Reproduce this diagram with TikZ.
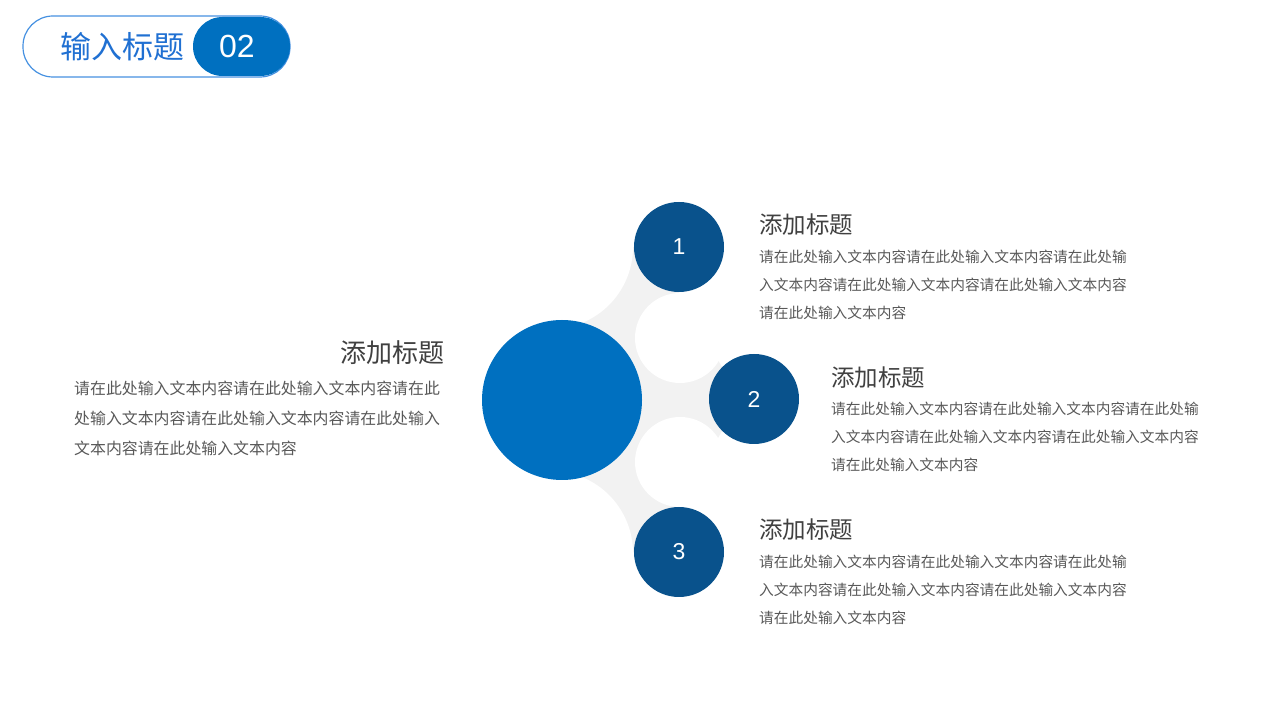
\documentclass[tikz,border=0pt]{standalone}
\usepackage{fontspec}
\setmainfont{Liberation Sans}
\newfontfamily\cjk{Noto Sans CJK SC}
\usetikzlibrary{backgrounds}

\definecolor{hubblue}{RGB}{0,112,192}
\definecolor{dotblue}{RGB}{9,82,140}
\definecolor{neckgray}{RGB}{242,242,242}
\definecolor{headblue}{RGB}{32,112,210}
\definecolor{rimblue}{RGB}{70,145,225}
\definecolor{titlegray}{RGB}{64,64,64}
\definecolor{bodygray}{RGB}{89,89,89}

\begin{document}
\begin{tikzpicture}[x = 1pt, y = 1pt,
            hub/.style = {circle, fill = hubblue, minimum size = 160pt, inner sep = 0pt},
            dot/.style = {circle, fill = dotblue, minimum size = 90pt, inner sep = 0pt, text = white, font = \fontsize{23}{23}\selectfont},
            headline/.style = {inner sep = 0pt, text = titlegray, font = \cjk\fontsize{23.5}{23.5}\selectfont},
            bodyline/.style = {inner sep = 0pt, anchor = west, text = bodygray, font = \cjk\fontsize{14.7}{14.7}\selectfont},
            bigheadline/.style = {headline, font = \cjk\fontsize{26}{26}\selectfont},
            bigbodyline/.style = {bodyline, font = \cjk\fontsize{15.9}{15.9}\selectfont}]
            \useasboundingbox (0,0) rectangle (1280,720);

            \draw [rimblue, line width = 1.2pt, rounded corners = 30pt]
            (23,643) rectangle (290,704);
            \fill [hubblue, rounded corners = 29.5pt]
            (193,644) rectangle (290,703);
            \node [inner sep = 0pt, anchor = west, text = headblue, font = \cjk\fontsize{31}{31}\selectfont] (sectitle) at (60,673) {输入标题};
            \node [inner sep = 0pt, text = white, font = \fontsize{32}{32}\selectfont] (secnum) at (237,674) {02};

            \node [hub] (hub) at (562,320) {};
            \node [dot] (one) at (679,473) {1};
            \node [dot] (two) at (754,321) {2};
            \node [dot] (three) at (679,168) {3};

            \coordinate (gapa) at (551,473);
            \coordinate (gapb) at (680,382);
            \coordinate (gapc) at (680,258);
            \coordinate (gapd) at (551,167);

            \begin{scope}[on background layer]
            \fill [neckgray]
            (gapa) -- (one.center) -- (one.south) -- (two.north west) -- (two.south west)
            -- (three.north) -- (three.center) -- (gapd) -- cycle;
            \fill [white]
            (gapa) circle (82pt) (gapd) circle (82pt)
            (gapb) circle (45pt) (gapc) circle (45pt);
            \end{scope}

            \node [bigheadline, anchor = east] (headleft) at (445,367) {添加标题};
            \node [bigbodyline] (leftlinea) at (74,332) {请在此处输入文本内容请在此处输入文本内容请在此};
            \node [bigbodyline] (leftlineb) at (74,302) {处输入文本内容请在此处输入文本内容请在此处输入};
            \node [bigbodyline] (leftlinec) at (74,272) {文本内容请在此处输入文本内容};

            \node [headline, anchor = west] (headone) at (759,495) {添加标题};
            \node [bodyline] (onelinea) at (759,463) {请在此处输入文本内容请在此处输入文本内容请在此处输};
            \node [bodyline] (onelineb) at (759,435) {入文本内容请在此处输入文本内容请在此处输入文本内容};
            \node [bodyline] (onelinec) at (759,407) {请在此处输入文本内容};

            \node [headline, anchor = west] (headtwo) at (831,342) {添加标题};
            \node [bodyline] (twolinea) at (831,311) {请在此处输入文本内容请在此处输入文本内容请在此处输};
            \node [bodyline] (twolineb) at (831,283) {入文本内容请在此处输入文本内容请在此处输入文本内容};
            \node [bodyline] (twolinec) at (831,255) {请在此处输入文本内容};

            \node [headline, anchor = west] (headthree) at (759,190) {添加标题};
            \node [bodyline] (threelinea) at (759,158) {请在此处输入文本内容请在此处输入文本内容请在此处输};
            \node [bodyline] (threelineb) at (759,130) {入文本内容请在此处输入文本内容请在此处输入文本内容};
            \node [bodyline] (threelinec) at (759,102) {请在此处输入文本内容};
        \end{tikzpicture}
\end{document}
